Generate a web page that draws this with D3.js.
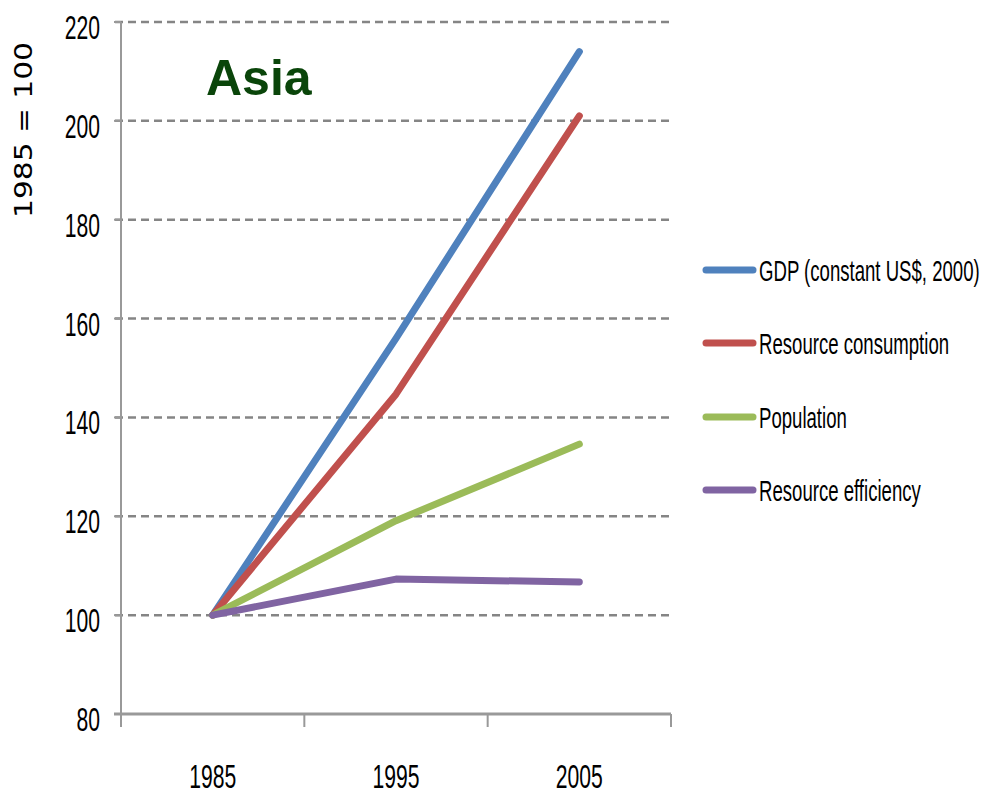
<!DOCTYPE html>
<html>
<head>
<meta charset="utf-8">
<script src="https://cdn.jsdelivr.net/npm/d3@7"></script>
<style>
  html, body { margin: 0; padding: 0; background: #fff; }
  svg { display: block; }
</style>
</head>
<body>
<svg id="chart" width="984" height="796"></svg>
<script>
// Index values, 1985 = 100
const years = ["1985", "1995", "2005"];
const gdp = [100, 156, 214];
const resourceConsumption = [100, 144.7, 201];
const population = [100, 119.1, 134.6];
const resourceEfficiency = [100, 107.3, 106.7];
const yTicks = [80, 100, 120, 140, 160, 180, 200, 220];

const seriesNames = ["GDP (constant US$, 2000)", "Resource consumption", "Population", "Resource efficiency"];
const seriesColors = ["#4F81BD", "#C0504D", "#9BBB59", "#8064A2"];
const seriesValues = [gdp, resourceConsumption, population, resourceEfficiency];

const series = seriesNames.map((name, i) => ({
  name, color: seriesColors[i],
  values: years.map((y, j) => ({ year: y, value: seriesValues[i][j] }))
}));

const svg = d3.select("#chart");
const plot = { left: 121, right: 671, top: 22, bottom: 714 };

const x = d3.scaleBand().domain(years).range([plot.left, plot.right]);
const y = d3.scaleLinear().domain([80, 220]).range([plot.bottom, plot.top]);

const narrowText = (sel, size) => sel
  .attr("font-family", "'Liberation Sans', Arial, sans-serif")
  .attr("font-size", size)
  .attr("fill", "#000");

// Horizontal dashed gridlines
svg.append("g")
  .selectAll("line")
  .data(yTicks.filter(t => t > 80))
  .join("line")
  .attr("x1", plot.left - 6)
  .attr("x2", plot.right)
  .attr("y1", d => y(d))
  .attr("y2", d => y(d))
  .attr("stroke", "#858585")
  .attr("stroke-width", 2.5)
  .attr("stroke-dasharray", "8,5");

// Y axis
const yAxis = svg.append("g");
yAxis.append("line")
  .attr("x1", plot.left).attr("x2", plot.left)
  .attr("y1", plot.top).attr("y2", plot.bottom + 13)
  .attr("stroke", "#999").attr("stroke-width", 2);
yAxis.selectAll("line.tick")
  .data(yTicks)
  .join("line")
  .attr("class", "tick")
  .attr("x1", plot.left - 7).attr("x2", plot.left)
  .attr("y1", d => y(d)).attr("y2", d => y(d))
  .attr("stroke", "#999").attr("stroke-width", 2);
yAxis.selectAll("text")
  .data(yTicks)
  .join("text")
  .attr("transform", d => `translate(100,${y(d) + 17}) scale(0.64,1)`)
  .attr("text-anchor", "end")
  .text(d => d)
  .call(narrowText, 33);

// X axis
const xAxis = svg.append("g");
xAxis.append("line")
  .attr("x1", plot.left - 7).attr("x2", plot.right)
  .attr("y1", plot.bottom).attr("y2", plot.bottom)
  .attr("stroke", "#999").attr("stroke-width", 3);
const xEdges = years.map(d => x(d)).concat([x(years[years.length - 1]) + x.bandwidth()]);
xAxis.selectAll("line.tick")
  .data(xEdges)
  .join("line")
  .attr("class", "tick")
  .attr("x1", d => d).attr("x2", d => d)
  .attr("y1", plot.bottom).attr("y2", plot.bottom + 13)
  .attr("stroke", "#999").attr("stroke-width", 2);
xAxis.selectAll("text")
  .data(years)
  .join("text")
  .attr("transform", d => `translate(${x(d) + x.bandwidth() / 2},788) scale(0.64,1)`)
  .attr("text-anchor", "middle")
  .text(d => d)
  .call(narrowText, 33);

// Series lines
const line = d3.line()
  .x(d => x(d.year) + x.bandwidth() / 2)
  .y(d => y(d.value));

svg.append("g")
  .selectAll("path")
  .data(series)
  .join("path")
  .attr("d", d => line(d.values))
  .attr("fill", "none")
  .attr("stroke", d => d.color)
  .attr("stroke-width", 7)
  .attr("stroke-linecap", "round")
  .attr("stroke-linejoin", "round");

// Legend
const legendRows = [270, 343, 417, 490];
const legend = svg.append("g");
const items = legend.selectAll("g")
  .data(series)
  .join("g")
  .attr("transform", (d, i) => `translate(706,${legendRows[i]})`);
items.append("line")
  .attr("x1", 0).attr("x2", 47)
  .attr("y1", 0).attr("y2", 0)
  .attr("stroke", d => d.color)
  .attr("stroke-width", 7)
  .attr("stroke-linecap", "round");
items.append("text")
  .attr("transform", "translate(53,11) scale(0.62,1)")
  .text(d => d.name)
  .call(narrowText, 30);

// Title
svg.append("text")
  .attr("x", 206)
  .attr("y", 95)
  .attr("font-family", "'Liberation Sans', Arial, sans-serif")
  .attr("font-weight", "bold")
  .attr("font-size", 50)
  .attr("fill", "#0A450A")
  .text("Asia");

// Y axis title
svg.append("text")
  .attr("transform", "translate(32,130) rotate(-90)")
  .attr("text-anchor", "middle")
  .attr("font-family", "'DejaVu Sans', Verdana, sans-serif")
  .attr("font-size", 25)
  .attr("textLength", 176)
  .attr("lengthAdjust", "spacingAndGlyphs")
  .attr("fill", "#000")
  .text("1985 = 100");
</script>
</body>
</html>
